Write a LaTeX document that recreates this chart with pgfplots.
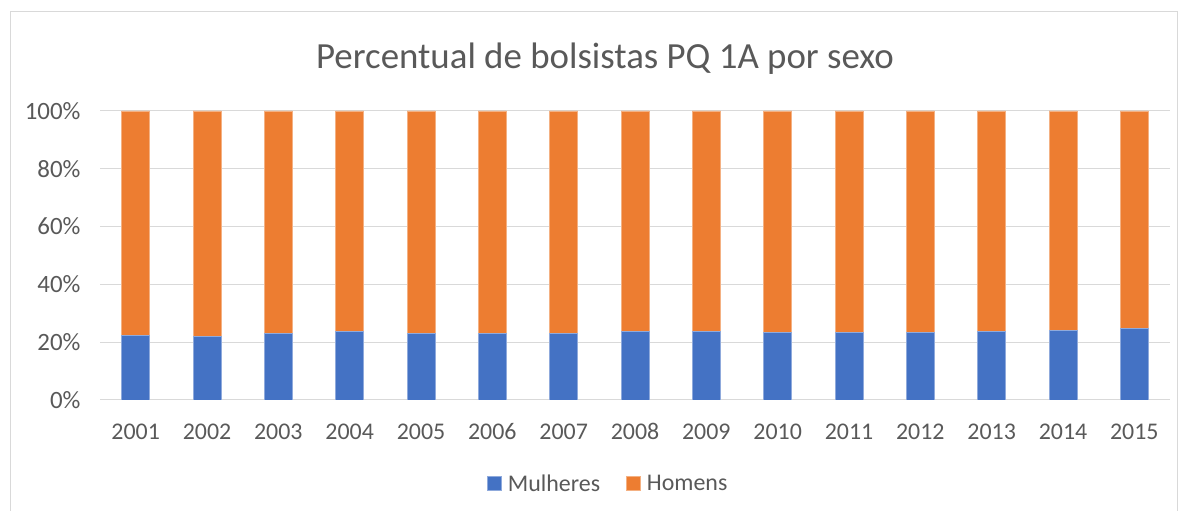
\documentclass[border=0pt]{standalone}
\usepackage{pgfplots}
\pgfplotsset{compat=1.18}
\usepackage{fontspec}
\setmainfont{Carlito}
\definecolor{cblue}{HTML}{4472C4}
\definecolor{corange}{HTML}{ED7D31}
\definecolor{cgrid}{HTML}{D9D9D9}
\definecolor{ctext}{HTML}{595959}
\begin{document}
\begin{tikzpicture}[x=1bp,y=1bp]
\path (0,0) rectangle (1188,511);
\draw[cgrid, line width=1bp] (10,0) -- (10,499) -- (1177,499) -- (1177,0);
\node[text=ctext, font=\fontsize{37}{44}\selectfont] at (605,452) {Percentual de bolsistas PQ 1A por sexo};
\begin{axis}[
  at={(100bp,111bp)}, anchor=south west,
  scale only axis, width=1070bp, height=289bp,
  ybar stacked, bar width=28bp,
  xmin=0.5, xmax=15.5, ymin=0, ymax=100,
  xtick={1,...,15},
  xticklabels={2001,2002,2003,2004,2005,2006,2007,2008,2009,2010,2011,2012,2013,2014,2015},
  ytick={0,20,40,60,80,100},
  yticklabels={0\%,20\%,40\%,60\%,80\%,100\%},
  ymajorgrids, grid style={cgrid, line width=1bp},
  axis line style={draw=none},
  axis x line*=bottom,
  x axis line style={cgrid, line width=1bp},
  major tick length=0pt,
  tick label style={text=ctext},
  yticklabel style={font=\fontsize{25}{30}\selectfont, xshift=-16bp},
  xticklabel style={font=\fontsize{24}{29}\selectfont, yshift=-20bp},
  legend style={at={(0.475,-0.29)}, anchor=center, draw=none, legend columns=2,
    font=\fontsize{24}{29}\selectfont, text=ctext,
    /tikz/every odd column/.append style={column sep=4bp},
    /tikz/every even column/.append style={column sep=24bp}},
  legend image code/.code={\fill[#1] (0bp,-7bp) rectangle (14bp,7bp);},
]
\addplot[fill=cblue, draw=cblue!60!white, line width=0.8bp] coordinates {
(1,22.4) (2,22.0) (3,22.9) (4,23.6) (5,23.0) (6,23.0) (7,22.9) (8,23.6) (9,23.6) (10,23.3) (11,23.4) (12,23.4) (13,23.6) (14,24.0) (15,24.6)};
\addlegendentry{Mulheres}
\addplot[fill=corange, draw=corange!60!white, line width=0.8bp] coordinates {
(1,77.6) (2,78.0) (3,77.1) (4,76.4) (5,77.0) (6,77.0) (7,77.1) (8,76.4) (9,76.4) (10,76.7) (11,76.6) (12,76.6) (13,76.4) (14,76.0) (15,75.4)};
\addlegendentry{Homens}
\end{axis}
\end{tikzpicture}
\end{document}
